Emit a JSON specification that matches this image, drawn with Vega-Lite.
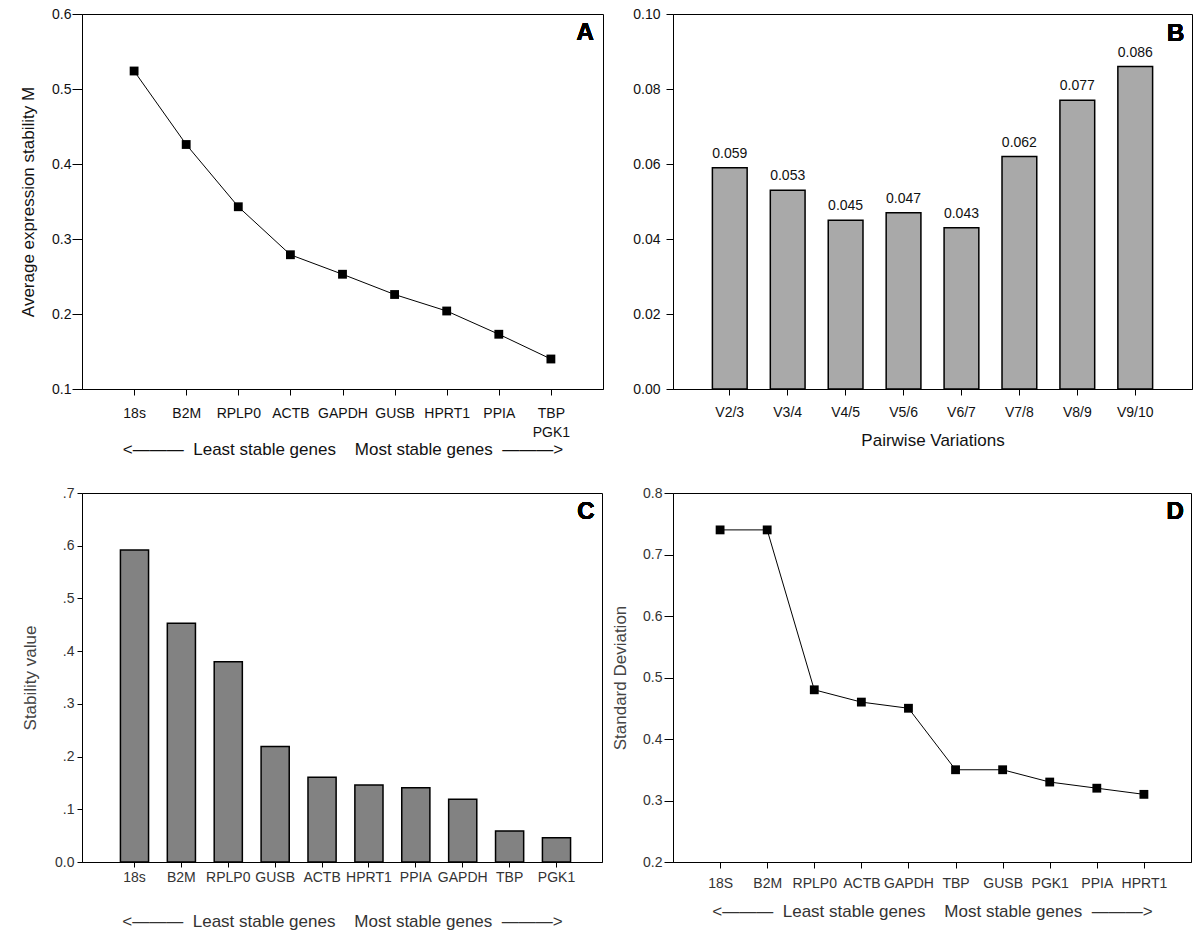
{
  "$schema": "https://vega.github.io/schema/vega-lite/v6.json",
  "background": "white",
  "padding": {"left": 19, "top": 6, "right": 5, "bottom": 2},
  "config": {
    "font": "Liberation Sans, Arial, sans-serif",
    "view": {"stroke": "black", "strokeWidth": 1},
    "axis": {
      "grid": false,
      "domainColor": "black",
      "domainWidth": 1,
      "tickColor": "black",
      "tickWidth": 1,
      "labelFont": "Liberation Sans, Arial, sans-serif",
      "titleFont": "Liberation Sans, Arial, sans-serif",
      "labelFontSize": 14,
      "titleFontSize": 17,
      "titleFontWeight": "normal",
      "labelColor": "#111",
      "titleColor": "#111"
    }
  },
  "datasets": {
    "genorm": [
      {"gene": "18s", "M": 0.524},
      {"gene": "B2M", "M": 0.426},
      {"gene": "RPLP0", "M": 0.343},
      {"gene": "ACTB", "M": 0.279},
      {"gene": "GAPDH", "M": 0.253},
      {"gene": "GUSB", "M": 0.226},
      {"gene": "HPRT1", "M": 0.204},
      {"gene": "PPIA", "M": 0.173},
      {"gene": "TBP/PGK1", "M": 0.140}
    ],
    "pairwise": [
      {"pair": "V2/3", "V": 0.059},
      {"pair": "V3/4", "V": 0.053},
      {"pair": "V4/5", "V": 0.045},
      {"pair": "V5/6", "V": 0.047},
      {"pair": "V6/7", "V": 0.043},
      {"pair": "V7/8", "V": 0.062},
      {"pair": "V8/9", "V": 0.077},
      {"pair": "V9/10", "V": 0.086}
    ],
    "normfinder": [
      {"gene": "18s", "S": 0.592},
      {"gene": "B2M", "S": 0.453},
      {"gene": "RPLP0", "S": 0.380},
      {"gene": "GUSB", "S": 0.219},
      {"gene": "ACTB", "S": 0.161},
      {"gene": "HPRT1", "S": 0.146},
      {"gene": "PPIA", "S": 0.141},
      {"gene": "GAPDH", "S": 0.119},
      {"gene": "TBP", "S": 0.059},
      {"gene": "PGK1", "S": 0.046}
    ],
    "bestkeeper": [
      {"gene": "18S", "SD": 0.74},
      {"gene": "B2M", "SD": 0.74},
      {"gene": "RPLP0", "SD": 0.48},
      {"gene": "ACTB", "SD": 0.46},
      {"gene": "GAPDH", "SD": 0.45},
      {"gene": "TBP", "SD": 0.35},
      {"gene": "GUSB", "SD": 0.35},
      {"gene": "PGK1", "SD": 0.33},
      {"gene": "PPIA", "SD": 0.32},
      {"gene": "HPRT1", "SD": 0.31}
    ]
  },
  "columns": 2,
  "align": "none",
  "bounds": "flush",
  "spacing": {"row": 104, "column": 70},
  "concat": [
    {
      "width": 521,
      "height": 375,
      "data": {"name": "genorm"},
      "encoding": {
        "x": {
          "field": "gene", "type": "nominal", "sort": null,
          "scale": {"type": "point", "padding": 1},
          "axis": {
            "title": "<———\u00a0\u00a0Least stable genes\u00a0\u00a0\u00a0\u00a0Most stable genes\u00a0\u00a0———>",
            "labelAngle": 0, "tickSize": 6, "labelPadding": 11, "titlePadding": 2, "labelLineHeight": 19.5,
            "labelExpr": "datum.value == 'TBP/PGK1' ? ['TBP', '\u00a0\u00a0\u00a0\u00a0PGK1'] : datum.label"
          }
        },
        "y": {
          "field": "M", "type": "quantitative",
          "scale": {"domain": [0.1, 0.6], "nice": false, "zero": false},
          "axis": {"title": "Average expression stability M", "values": [0.1, 0.2, 0.3, 0.4, 0.5, 0.6], "format": ".1f", "tickSize": 10, "labelPadding": 1, "titlePadding": 14}
        }
      },
      "layer": [
        {"mark": {"type": "line", "color": "black", "strokeWidth": 1}},
        {"mark": {"type": "point", "shape": "square", "filled": true, "size": 78, "color": "black", "opacity": 1}},
        {"mark": {"type": "text", "text": "A", "align": "right", "baseline": "alphabetic", "fontSize": 24, "fontWeight": "bold", "fill": "black", "strokeWidth": 0, "dx": 43, "dy": 25.6},
         "encoding": {"x": {"datum": "TBP/PGK1", "type": "nominal"}, "y": {"datum": 0.6, "type": "quantitative"}}}
      ]
    },
    {
      "width": 519,
      "height": 375,
      "data": {"name": "pairwise"},
      "encoding": {
        "x": {
          "field": "pair", "type": "nominal", "sort": null,
          "scale": {"paddingInner": 0.4, "paddingOuter": 0.68},
          "axis": {"title": "Pairwise Variations", "labelAngle": 0, "tickSize": 6, "labelPadding": 10, "titlePadding": 13}
        },
        "y": {
          "field": "V", "type": "quantitative",
          "scale": {"domain": [0, 0.1], "nice": false},
          "axis": {"title": null, "values": [0, 0.02, 0.04, 0.06, 0.08, 0.1], "format": ".2f", "tickSize": 7, "labelPadding": 6}
        }
      },
      "layer": [
        {"mark": {"type": "bar", "fill": "#a9a9a9", "stroke": "black", "strokeWidth": 1.5}},
        {"mark": {"type": "text", "baseline": "middle", "dy": -14, "fontSize": 14, "color": "#111"},
         "encoding": {"text": {"field": "V", "type": "quantitative", "format": ".3f"}}},
        {"mark": {"type": "text", "text": "B", "align": "right", "baseline": "alphabetic", "fontSize": 24, "fontWeight": "bold", "fill": "black", "strokeWidth": 0, "dx": 49, "dy": 26.6},
         "encoding": {"x": {"datum": "V9/10", "type": "nominal"}, "y": {"datum": 0.1, "type": "quantitative"}, "text": {"value": "B"}}}
      ]
    },
    {
      "width": 520,
      "height": 369,
      "data": {"name": "normfinder"},
      "encoding": {
        "x": {
          "field": "gene", "type": "nominal", "sort": null,
          "scale": {"paddingInner": 0.4, "paddingOuter": 0.745, "align": 0.55},
          "axis": {
            "title": "<———\u00a0\u00a0Least stable genes\u00a0\u00a0\u00a0\u00a0Most stable genes\u00a0\u00a0———>",
            "labelAngle": 0, "tickSize": 5, "labelPadding": 3, "titlePadding": 29, "labelColor": "#333", "titleColor": "#333"
          }
        },
        "y": {
          "field": "S", "type": "quantitative",
          "scale": {"domain": [0, 0.7], "nice": false},
          "axis": {
            "title": "Stability value", "values": [0, 0.1, 0.2, 0.3, 0.4, 0.5, 0.6, 0.7],
            "labelExpr": "datum.value == 0 ? '0.0' : replace(format(datum.value, '.1f'), '0.', '.')",
            "tickSize": 5, "labelPadding": 3, "titlePadding": 15.5, "labelColor": "#333", "titleColor": "#444"
          }
        }
      },
      "layer": [
        {"mark": {"type": "bar", "fill": "#828282", "stroke": "black", "strokeWidth": 1.5}},
        {"mark": {"type": "text", "text": "C", "align": "right", "baseline": "alphabetic", "fontSize": 24, "fontWeight": "bold", "fill": "black", "strokeWidth": 0, "dx": 38, "dy": 26.3},
         "encoding": {"x": {"datum": "PGK1", "type": "nominal"}, "y": {"datum": 0.7, "type": "quantitative"}}}
      ]
    },
    {
      "width": 518,
      "height": 369,
      "data": {"name": "bestkeeper"},
      "encoding": {
        "x": {
          "field": "gene", "type": "nominal", "sort": null,
          "scale": {"type": "point", "padding": 1.055},
          "axis": {
            "title": "<———\u00a0\u00a0Least stable genes\u00a0\u00a0\u00a0\u00a0Most stable genes\u00a0\u00a0———>",
            "labelAngle": 0, "tickSize": 6, "labelPadding": 8, "titlePadding": 13.5, "labelColor": "#333", "titleColor": "#333"
          }
        },
        "y": {
          "field": "SD", "type": "quantitative",
          "scale": {"domain": [0.2, 0.8], "nice": false, "zero": false},
          "axis": {"title": "Standard Deviation", "values": [0.2, 0.3, 0.4, 0.5, 0.6, 0.7, 0.8], "format": ".1f", "tickSize": 9, "labelPadding": 2, "titlePadding": 13.5, "labelColor": "#333", "titleColor": "#444"}
        }
      },
      "layer": [
        {"mark": {"type": "line", "color": "black", "strokeWidth": 1}},
        {"mark": {"type": "point", "shape": "square", "filled": true, "size": 78, "color": "black", "opacity": 1}},
        {"mark": {"type": "text", "text": "D", "align": "right", "baseline": "alphabetic", "fontSize": 24, "fontWeight": "bold", "fill": "black", "strokeWidth": 0, "dx": 40, "dy": 26},
         "encoding": {"x": {"datum": "HPRT1", "type": "nominal"}, "y": {"datum": 0.8, "type": "quantitative"}}}
      ]
    }
  ]
}
